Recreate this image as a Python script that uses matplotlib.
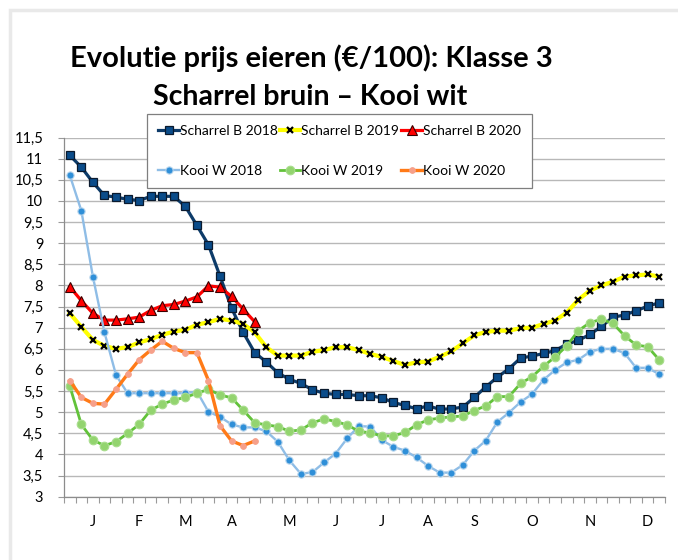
import matplotlib
matplotlib.use("Agg")
import matplotlib.pyplot as plt
from matplotlib.patches import Rectangle
import numpy as np

plt.rcParams['font.family'] = ['Lato', 'DejaVu Sans']

# weekly prices (EUR/100), week 1..52
scharrel_2018 = [11.08, 10.80, 10.44, 10.13, 10.09, 10.04, 10.01, 10.11, 10.11, 10.11,
                 9.87, 9.42, 8.96, 8.22, 7.46, 6.89, 6.41, 6.19, 5.93, 5.78,
                 5.68, 5.53, 5.45, 5.42, 5.42, 5.39, 5.39, 5.34, 5.23, 5.16,
                 5.08, 5.15, 5.07, 5.08, 5.12, 5.35, 5.60, 5.83, 6.03, 6.28,
                 6.33, 6.39, 6.46, 6.61, 6.70, 6.84, 7.03, 7.25, 7.30, 7.40,
                 7.51, 7.59]
scharrel_2019 = [7.34, 7.02, 6.71, 6.57, 6.50, 6.54, 6.65, 6.73, 6.83, 6.91,
                 6.95, 7.07, 7.13, 7.21, 7.17, 7.09, 6.89, 6.54, 6.34, 6.34,
                 6.34, 6.43, 6.47, 6.54, 6.54, 6.47, 6.38, 6.31, 6.21, 6.12,
                 6.18, 6.20, 6.31, 6.44, 6.63, 6.82, 6.90, 6.93, 6.93, 6.99,
                 7.00, 7.09, 7.17, 7.36, 7.66, 7.88, 8.00, 8.09, 8.21, 8.24,
                 8.26, 8.21]
scharrel_2020 = [7.97, 7.64, 7.34, 7.18, 7.18, 7.21, 7.25, 7.41, 7.52, 7.55,
                 7.63, 7.73, 7.99, 7.96, 7.74, 7.44, 7.14]
kooi_2018 = [10.61, 9.77, 8.21, 6.89, 5.88, 5.45, 5.45, 5.45, 5.45, 5.45,
             5.45, 5.49, 5.01, 4.89, 4.71, 4.64, 4.64, 4.55, 4.30, 3.86,
             3.54, 3.58, 3.81, 4.02, 4.38, 4.67, 4.66, 4.34, 4.18, 4.09,
             3.93, 3.73, 3.57, 3.57, 3.75, 4.09, 4.33, 4.77, 4.99, 5.24,
             5.43, 5.77, 6.00, 6.18, 6.24, 6.43, 6.50, 6.50, 6.40, 6.05,
             6.05, 5.90]
kooi_2019 = [5.62, 4.71, 4.34, 4.21, 4.30, 4.50, 4.71, 5.05, 5.19, 5.29,
             5.35, 5.45, 5.54, 5.41, 5.34, 5.05, 4.75, 4.70, 4.66, 4.55,
             4.58, 4.75, 4.84, 4.78, 4.70, 4.55, 4.51, 4.44, 4.44, 4.52,
             4.70, 4.82, 4.86, 4.89, 4.91, 5.04, 5.15, 5.37, 5.37, 5.68,
             5.84, 6.09, 6.31, 6.57, 6.93, 7.12, 7.20, 7.10, 6.81, 6.59,
             6.55, 6.24]
kooi_2020 = [5.75, 5.35, 5.21, 5.19, 5.54, 5.90, 6.24, 6.47, 6.68, 6.51,
             6.41, 6.41, 5.75, 4.68, 4.32, 4.21, 4.32]

month_labels = ['J', 'F', 'M', 'A', 'M', 'J', 'J', 'A', 'S', 'O', 'N', 'D']
month_weeks = [2, 6, 10, 14, 19, 23, 27, 31, 35, 40, 45, 50]
y_ticks = np.arange(3, 11.51, 0.5)

fig = plt.figure(figsize=(6.78, 5.60), dpi=100)
fig.patch.set_facecolor('white')
# light grey chart-area border (top / left visible)
fig.patches.append(Rectangle((9.5 / 678, -0.1), 1.2, 1.1 - 9.5 / 560, transform=fig.transFigure,
                             fill=False, edgecolor='#e9e9e9', linewidth=2.5, zorder=0))

ax = fig.add_axes([64 / 678, 1 - 496.7 / 560, (665 - 64) / 678, (496.7 - 137.6) / 560])

def weeks(vals):
    return np.arange(len(vals))

h1, = ax.plot(weeks(scharrel_2018), scharrel_2018, color='#0d3b69', lw=2.3, marker='s', ms=6,
              mfc='#0a4c8a', mec='#0a1a2e', mew=0.9, label='Scharrel B 2018')
h2, = ax.plot(weeks(scharrel_2019), scharrel_2019, color='#ffff00', lw=3.0, marker='x', ms=4.5,
              mec='black', mew=1.6, label='Scharrel B 2019')
h3, = ax.plot(weeks(scharrel_2020), scharrel_2020, color='#ff0000', lw=2.3, marker='^', ms=7,
              mfc='#ff0000', mec='#3a0000', mew=0.8, label='Scharrel B 2020')
h4, = ax.plot(weeks(kooi_2018), kooi_2018, color='#8fbde6', lw=1.7, marker='o', ms=5.2,
              mfc='#2f8fd8', mec='#b8d5ec', mew=0.8, label='Kooi W 2018')
h5, = ax.plot(weeks(kooi_2019), kooi_2019, color='#62c23a', lw=2.0, marker='o', ms=6.2,
              mfc='#93d46f', mec='#a9dd8e', mew=0.8, label='Kooi W 2019')
h6, = ax.plot(weeks(kooi_2020), kooi_2020, color='#ff7a17', lw=2.4, marker='o', ms=4.2,
              mfc='#f6a08a', mec='#f6a08a', mew=0.6, label='Kooi W 2020')

ax.set_xlim(-0.5, 51.5)
ax.set_ylim(3, 11.5)
ax.set_yticks(y_ticks)
ax.set_yticklabels([('%g' % v).replace('.', ',') for v in y_ticks])
ax.set_xticks(month_weeks)
ax.set_xticklabels(month_labels)
ax.set_xticks(np.arange(-0.5, 52, 1), minor=True)
ax.tick_params(axis='x', which='major', length=0, pad=13, labelsize=10.5)
ax.tick_params(axis='x', which='minor', length=4, color='#9a9a9a', width=0.8)
ax.tick_params(axis='y', length=4, color='#9a9a9a', width=0.8, pad=11, labelsize=10.5)
ax.grid(axis='y', color='#b8b8b8', lw=1.0)
ax.set_axisbelow(True)
for s in ['top', 'right']:
    ax.spines[s].set_visible(False)
for s in ['left', 'bottom']:
    ax.spines[s].set_color('#8c8c8c')
    ax.spines[s].set_linewidth(0.9)

leg = fig.legend([h1, h4, h2, h5, h3, h6],
                 [h.get_label() for h in [h1, h4, h2, h5, h3, h6]],
                 loc='upper left', bbox_to_anchor=(147 / 678, 1 - 114 / 560), ncol=3,
                 fontsize=10, frameon=True, fancybox=False, framealpha=1,
                 edgecolor='#7f7f7f', handlelength=1.5, handletextpad=0.05,
                 columnspacing=0.15, labelspacing=2.0, borderpad=0.8, borderaxespad=0)
leg.get_frame().set_linewidth(0.9)

fig.text(311 / 678, 1 - 58 / 560, 'Evolutie prijs eieren (€/100): Klasse 3', ha='center', va='center',
         fontsize=21, fontweight='bold')
fig.text(310 / 678, 1 - 97 / 560, 'Scharrel bruin – Kooi wit', ha='center', va='center',
         fontsize=20.5, fontweight='bold')

fig.savefig('out.png', dpi=100)
